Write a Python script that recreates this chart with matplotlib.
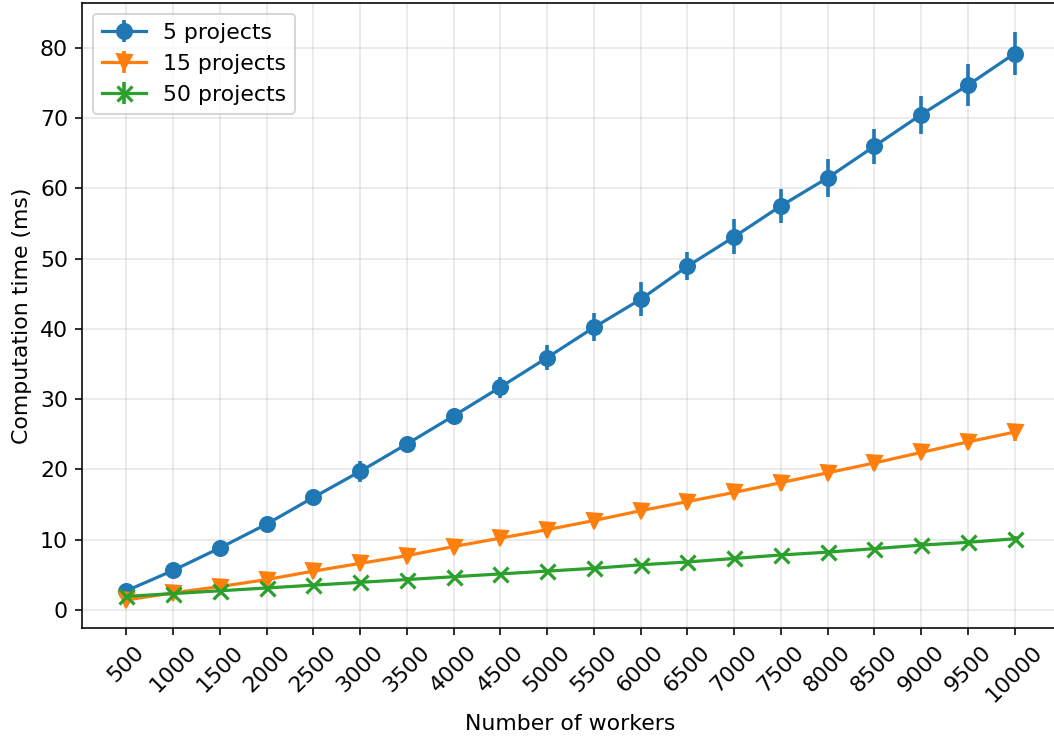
import matplotlib as mpl
mpl.use("agg")
import matplotlib.pyplot as plt
import numpy as np

plt.rcParams["font.size"] = 11

workers = [500, 1000, 1500, 2000, 2500, 3000, 3500, 4000, 4500, 5000,
           5500, 6000, 6500, 7000, 7500, 8000, 8500, 9000, 9500, 10000]

p5 = [2.7, 5.6, 8.8, 12.2, 16.0, 19.7, 23.6, 27.6, 31.7, 35.9,
      40.2, 44.2, 48.9, 53.1, 57.5, 61.5, 66.0, 70.5, 74.7, 79.2]
p5_err = [0.4, 0.5, 0.5, 0.5, 0.6, 1.5, 0.8, 1.0, 1.5, 1.8,
          2.0, 2.4, 2.0, 2.5, 2.4, 2.7, 2.5, 2.7, 3.0, 3.1]

p15 = [1.4, 2.4, 3.3, 4.3, 5.5, 6.6, 7.7, 9.0, 10.2, 11.4,
       12.7, 14.1, 15.4, 16.7, 18.1, 19.5, 20.9, 22.4, 23.9, 25.3]
p15_err = [0.6, 0.4, 0.4, 0.4, 0.4, 0.4, 0.4, 0.5, 0.5, 0.5,
           0.6, 0.6, 0.6, 0.8, 0.6, 0.6, 1.0, 0.6, 0.8, 1.2]

p50 = [1.9, 2.3, 2.7, 3.1, 3.5, 3.9, 4.3, 4.7, 5.1, 5.5,
       5.9, 6.4, 6.8, 7.3, 7.8, 8.2, 8.7, 9.2, 9.6, 10.1]
p50_err = [0.3, 0.3, 0.3, 0.3, 0.3, 0.3, 0.3, 0.3, 0.3, 0.3,
           0.3, 0.3, 0.3, 0.3, 0.3, 0.3, 0.3, 0.4, 0.4, 0.4]

x = np.arange(len(workers))

fig = plt.figure(figsize=(1054 / 144, 740 / 144), dpi=144)
# axes right edge runs past the figure, like the cropped original
ax = fig.add_axes([82 / 1054, 1 - 628 / 740, (1059 - 82) / 1054, 625 / 740])

ax.errorbar(x, p5, yerr=p5_err, marker="o", markersize=7.5, linewidth=1.6, elinewidth=1.8, label="5 projects")
ax.errorbar(x, p15, yerr=p15_err, marker="v", markersize=7.5, linewidth=1.6, elinewidth=1.8, label="15 projects")
ax.errorbar(x, p50, yerr=p50_err, marker="x", markersize=7.5, markeredgewidth=1.6, linewidth=1.6, elinewidth=1.8, label="50 projects")

ax.set_xticks(x)
ax.set_xticklabels([str(w) for w in workers], rotation=45)
ax.set_ylim(-2.6, 86.4)
ax.grid(True, alpha=0.3)
ax.set_xlabel("Number of workers")
ax.set_ylabel("Computation time (ms)")
ax.legend(loc="upper left")

plt.savefig("out.png", dpi=144)
